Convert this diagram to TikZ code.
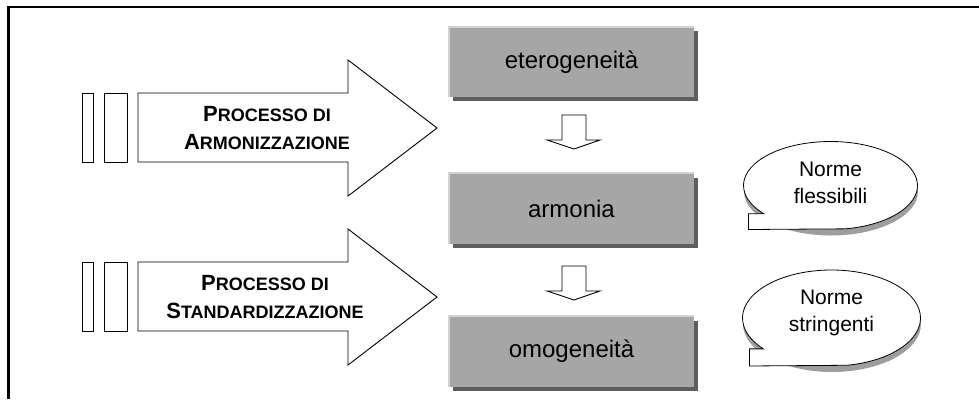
\documentclass[tikz,border=0pt]{standalone}
\usepackage{fontspec}
\setmainfont{Liberation Sans}
\usetikzlibrary{shadows}
\definecolor{statogrigio}{HTML}{A6A6A6}
\definecolor{statoombra}{HTML}{5E5E5E}
\definecolor{statoluce}{HTML}{D2D2D2}
\newcommand{\grande}[1]{{\fontsize{22}{28}\selectfont #1}}
% balloon: centre, x radius, y radius
\newcommand{\fumetto}[3]{%
  \begin{scope}[shift={(#1)}]
    \fill[ombra] (0.5,6) ellipse [x radius=#2, y radius=#3];
    \draw[fumetto] (80:#2 and #3) arc[start angle=80, end angle=-220, x radius=#2, y radius=#3]
      -- ++({-82-#2*cos(140)},0) -- ++(0,{0.357*#3}) -- cycle;
  \end{scope}}
\begin{document}
\begin{tikzpicture}[
x=1pt, y=-1pt,
cornice/.style={line width=2.5pt},
blocco/.style={draw=black, fill=white, line width=0.9pt},
stato/.style={rectangle, fill=statogrigio, minimum width=245pt, minimum height=70pt,
  font=\fontsize{24}{28}\selectfont,
  drop shadow={shadow xshift=4pt, shadow yshift=-4pt, fill=statoombra, opacity=1}},
luce/.style={draw=statoluce, line width=2pt},
processo/.style={align=center, font=\bfseries\fontsize{18}{28}\selectfont},
nota/.style={align=center, font=\fontsize{21}{27}\selectfont},
fumetto/.style={draw=black, fill=white, line width=0.8pt},
ombra/.style={fill=black!38},
]
\useasboundingbox (0,0) rectangle (979,399);
\draw[cornice] (8.7,399) -- (8.7,7.2) -- (979,7.2);

% big arrows with the two bars
\foreach \dy in {0,169} {
  \begin{scope}[yshift=-\dy pt]
    \draw[blocco] (82,93) rectangle (93,162);
    \draw[blocco] (104,93) rectangle (127,162);
    \draw[blocco] (138,93) -- (348,93) -- (348,60) -- (437,128)
      -- (348,196) -- (348,162) -- (138,162) -- cycle;
  \end{scope}
}
\node[processo] (armonizz) at (267,128) {\grande{P}ROCESSO DI\\\grande{A}RMONIZZAZIONE};
\node[processo] (standard) at (265,297) {\grande{P}ROCESSO DI\\\grande{S}TANDARDIZZAZIONE};

% states
\node[stato] (eter) at (571.5,62) {eterogeneità};
\node[stato] (armonia) at (571.5,208.5) {armonia};
\node[stato] (omog) at (571.5,351.5) {omogeneità};
\foreach \n in {eter,armonia,omog}
  \draw[luce] (\n.south west) -- (\n.north west) -- (\n.north east);

% small arrows
\foreach \ya in {115,266}
  \draw[blocco] (562,\ya) -- (586,\ya) -- (586,\ya+25) -- (600,\ya+25)
    -- (574,\ya+34) -- (547,\ya+25) -- (562,\ya+25) -- cycle;

% balloons
\coordinate (f1) at (830.5,185.5);
\coordinate (f2) at (831.5,318);
\fumetto{f1}{87}{44}
\fumetto{f2}{89}{48}
\node[nota] (flessibili) at ([yshift=3pt]f1) {Norme\\flessibili};
\node[nota] (stringenti) at ([yshift=5pt]f2) {Norme\\stringenti};
\end{tikzpicture}
\end{document}
